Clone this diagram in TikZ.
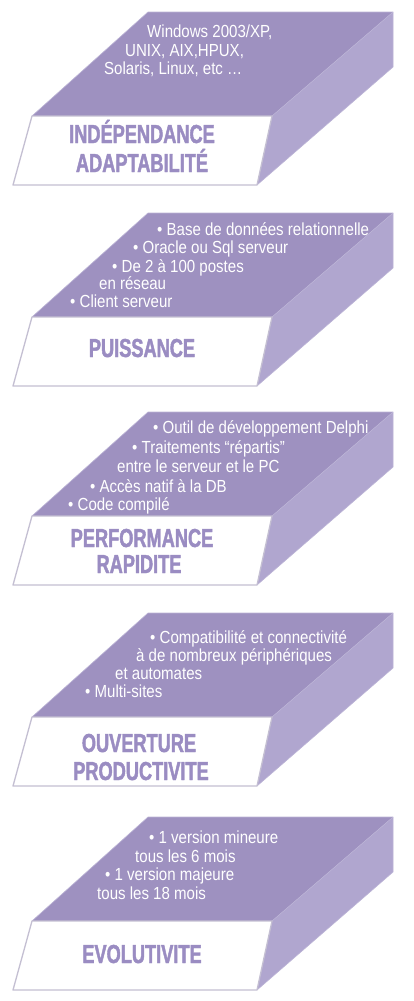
\documentclass[tikz,border=0pt]{standalone}
\usepackage{fontspec}
\newfontfamily\bodyfont{Liberation Sans}[FakeStretch=0.86]
\newfontfamily\headfont{Liberation Sans}[FakeStretch=0.70,FakeBold=1.6]
\definecolor{topc}{RGB}{158,145,192}
\definecolor{sidec}{RGB}{176,166,207}
\definecolor{headc}{RGB}{154,140,194}
\definecolor{edgec}{RGB}{196,191,210}
\definecolor{lightedge}{RGB}{188,180,214}
\tikzset{
  slab/.pic={
    \fill[topc] (32,104) -- (148,0) -- (393,0) -- (272,104) -- cycle;
    \fill[sidec] (272,104) -- (393,0) -- (393,55) -- (257,173) -- cycle;
    \draw[lightedge, line width=0.6pt, line join=round] (32,104) -- (148,0) -- (393,0) -- (393,55) -- (257,173);
    \draw[lightedge, line width=0.5pt] (272,104) -- (393,0);
    \draw[edgec, line width=1.3pt, fill=white, line join=round] (32,104) -- (272,104) -- (257,173) -- (13,173) -- cycle;
  },
  body/.style={text=white, font=\bodyfont\fontsize{17.5pt}{18pt}\selectfont, anchor=base west, inner sep=0pt},
  head/.style={text=headc, font=\headfont\bfseries\fontsize{26pt}{26pt}\selectfont, anchor=base, inner sep=0pt}
}
\begin{document}
\begin{tikzpicture}[x=1pt,y=-1pt]
\useasboundingbox[fill=white] (0,0) rectangle (414,1001);
\pic at (0,12) {slab};
\pic at (0,213) {slab};
\pic at (0,412) {slab};
\pic at (0,613) {slab};
\pic at (0,817) {slab};
% block 1
\node[body] (a1) at (147,37) {Windows 2003/XP,};
\node[body] (a2) at (125,56) {UNIX, AIX,HPUX,};
\node[body] (a3) at (104,74) {Solaris, Linux, etc …};
\node[head] (ah1) at (142,143) {INDÉPENDANCE};
\node[head] (ah2) at (142,172) {ADAPTABILITÉ};
% block 2
\node[body] (b1) at (157,235) {• Base de données relationnelle};
\node[body] (b2) at (133,253) {• Oracle ou Sql serveur};
\node[body] (b3) at (112,272) {• De 2 à 100 postes};
\node[body] (b4) at (99,289) {en réseau};
\node[body] (b5) at (70,307) {• Client serveur};
\node[head] (bh1) at (142,357) {PUISSANCE};
% block 3
\node[body] (c1) at (153,433) {• Outil de développement Delphi};
\node[body] (c2) at (132,453) {• Traitements “répartis”};
\node[body] (c3) at (117,472) {entre le serveur et le PC};
\node[body] (c4) at (90,492) {• Accès natif à la DB};
\node[body] (c5) at (68,510) {• Code compilé};
\node[head] (ch1) at (142,547) {PERFORMANCE};
\node[head] (ch2) at (139,573) {RAPIDITE};
% block 4
\node[body] (d1) at (150,643) {• Compatibilité et connectivité};
\node[body] (d2) at (136,661) {à de nombreux périphériques};
\node[body] (d3) at (115,679) {et automates};
\node[body] (d4) at (85,697) {• Multi-sites};
\node[head] (dh1) at (139,752) {OUVERTURE};
\node[head] (dh2) at (141,780) {PRODUCTIVITE};
% block 5
\node[body] (e1) at (149,843) {• 1 version mineure};
\node[body] (e2) at (135,862) {tous les 6 mois};
\node[body] (e3) at (105,880) {• 1 version majeure};
\node[body] (e4) at (97,899) {tous les 18 mois};
\node[head] (eh1) at (142,963) {EVOLUTIVITE};
\end{tikzpicture}
\end{document}
